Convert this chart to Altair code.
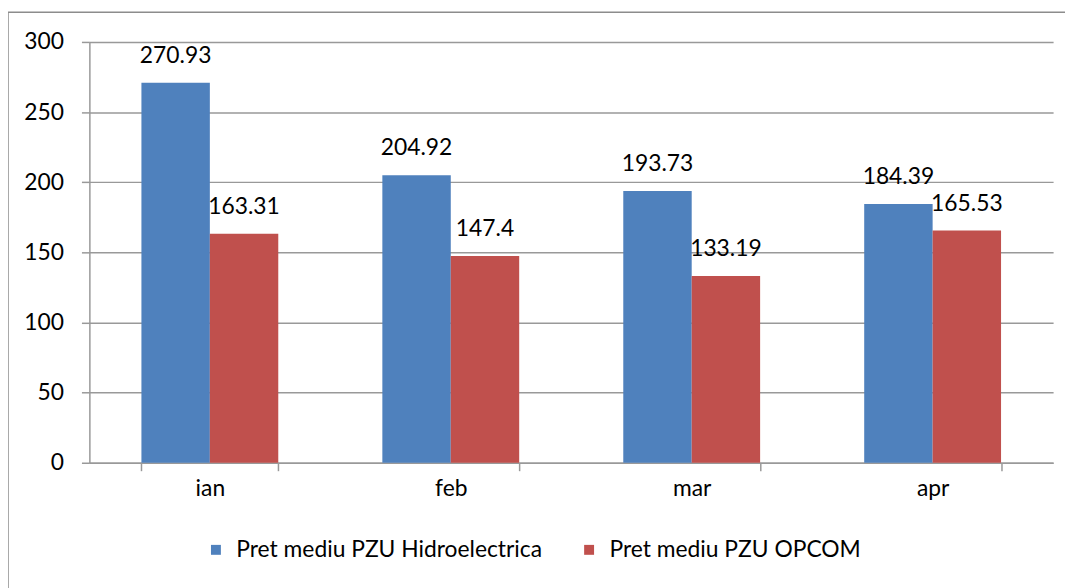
import altair as alt
import pandas as pd

months = ["ian", "feb", "mar", "apr"]
series = ["Pret mediu PZU Hidroelectrica", "Pret mediu PZU OPCOM"]
hidro = [270.93, 204.92, 193.73, 184.39]
opcom = [163.31, 147.4, 133.19, 165.53]
colors = ["#4F81BD", "#C0504D"]
y_ticks = [0, 50, 100, 150, 200, 250, 300]

rows = []
for i, m in enumerate(months):
    rows.append({"month": m, "series": series[0], "value": hidro[i], "label": str(hidro[i])})
    rows.append({"month": m, "series": series[1], "value": opcom[i], "label": str(opcom[i])})
df = pd.DataFrame(rows)

FONT = "Lato"
GRID = "#999999"
FS = 23

x = alt.X(
    "month:N", sort=months, title=None,
    scale=alt.Scale(paddingInner=0.432, paddingOuter=0.216),
    axis=alt.Axis(tickBand="extent", labelAngle=0, grid=False, tickSize=8,
                  labelPadding=7, labelFontSize=FS),
)
xo = alt.XOffset("series:N", sort=series, scale=alt.Scale(paddingInner=0, paddingOuter=0))
y = alt.Y(
    "value:Q", title=None, scale=alt.Scale(domain=[0, 300]),
    axis=alt.Axis(values=y_ticks, grid=True, tickSize=8, labelPadding=18, labelFontSize=FS),
)

frame = alt.Chart(pd.DataFrame({"a": [0]})).mark_rect(
    fill=None, stroke="#8c8c8c", strokeWidth=1.5
).encode(x=alt.value(-82), x2=alt.value(1000), y=alt.value(-30), y2=alt.value(620))

bars = alt.Chart(df).mark_bar().encode(
    x=x, xOffset=xo, y=y,
    color=alt.Color(
        "series:N", sort=series,
        scale=alt.Scale(domain=series, range=colors),
        legend=alt.Legend(
            title=None, orient="none", direction="horizontal",
            legendX=116, legendY=500, symbolType="square", symbolSize=100,
            symbolStrokeWidth=0, labelFontSize=FS, labelFont=FONT, labelLimit=500,
            columnPadding=35, labelOffset=9,
        ),
    ),
)

text = alt.Chart(df).mark_text(
    baseline="alphabetic", dy=-20, fontSize=FS, font=FONT, color="black"
).encode(x=x, xOffset=xo, y=y, text="label:N")

chart = (
    alt.layer(frame, bars, text)
    .properties(width=971, height=424, autosize=alt.AutoSizeParams(type="none"),
                padding={"left": 82, "top": 32, "right": 12, "bottom": 124},
                background="white")
    .configure_view(stroke=None)
    .configure_axis(
        domainColor=GRID, domainWidth=1.5, tickColor=GRID, tickWidth=1.5,
        gridColor=GRID, gridWidth=1.5, labelColor="black", labelFont=FONT,
    )
)

chart.save("out.html", embed_options={"renderer": "svg", "actions": False})
